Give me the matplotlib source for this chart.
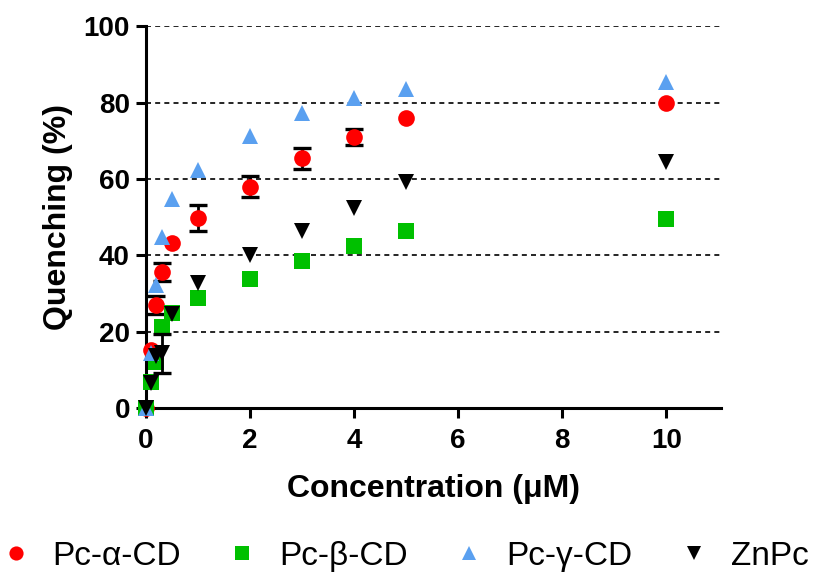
import matplotlib
matplotlib.use("Agg")
import matplotlib.pyplot as plt
import numpy as np

plt.rcParams['font.family'] = ['Liberation Sans', 'DejaVu Sans']

# concentration (uM)
conc = [0, 0.1, 0.2, 0.3, 0.5, 1, 2, 3, 4, 5, 10]

# quenching (%) per compound
pc_alpha = [0, 15.2, 27.0, 35.7, 43.2, 49.8, 58.0, 65.4, 71.0, 76.1, 80.0]
pc_beta = [0, 6.8, 12.0, 21.3, 25.0, 28.7, 33.8, 38.4, 42.5, 46.5, 49.5]
pc_gamma = [0, 14.3, 32.2, 44.9, 54.8, 62.4, 71.3, 77.4, 81.2, 83.7, 85.5]
znpc = [0, 6.5, 13.5, 14.3, 24.6, 32.8, 40.1, 46.5, 52.3, 59.2, 64.4]

# error bars (nan = none shown)
nan = np.nan
pc_alpha_err = [nan, nan, 2.3, 2.3, nan, 3.3, 2.7, 2.7, 2.1, nan, nan]
pc_beta_err = [nan] * 11
pc_gamma_err = [nan] * 11
znpc_err = [nan, nan, nan, 5.0, nan, nan, nan, nan, nan, nan, nan]

names = ["Pc-\u03b1-CD", "Pc-\u03b2-CD", "Pc-\u03b3-CD", "ZnPc"]
series = [pc_alpha, pc_beta, pc_gamma, znpc]
errs = [pc_alpha_err, pc_beta_err, pc_gamma_err, znpc_err]
markers = ['o', 's', '^', 'v']
colors = ['#ff0000', '#00c000', '#5aa0f0', '#000000']

fig = plt.figure(figsize=(8.27, 5.76), dpi=100)
ax = fig.add_axes([0.1765, 0.2917, 0.6953, 0.6623])

for i, (y, e) in enumerate(zip(series, errs)):
    ax.errorbar(conc, y, yerr=e, fmt='none', ecolor='black', elinewidth=2.0,
                capsize=6.5, capthick=2.4, zorder=3 + i, clip_on=False)
    ax.plot(conc, y, linestyle='none', marker=markers[i], markersize=12,
            color=colors[i], markeredgewidth=0, label=names[i],
            zorder=4 + i, clip_on=False)

ax.set_xlim(0, 11.05)
ax.set_ylim(0, 100)
ax.set_xticks([0, 2, 4, 6, 8, 10])
ax.set_yticks([0, 20, 40, 60, 80, 100])

ax.yaxis.grid(True, color='black', linestyle=(0, (3, 2.5)), linewidth=1.2)
ax.set_axisbelow(True)

for side in ('top', 'right'):
    ax.spines[side].set_visible(False)
for side in ('left', 'bottom'):
    ax.spines[side].set_linewidth(2.2)

ax.tick_params(axis='both', width=2.2, length=7.5, labelsize=20)
ax.tick_params(axis='x', pad=7)
ax.tick_params(axis='y', pad=4)
for lab in ax.get_xticklabels() + ax.get_yticklabels():
    lab.set_fontweight('bold')

ax.set_xlabel('Concentration (\u03bcM)', fontsize=23, fontweight='bold', labelpad=14)
ax.set_ylabel('Quenching (%)', fontsize=23, fontweight='bold', labelpad=8)

fig.legend(loc='lower center', ncol=4, frameon=False, fontsize=24,
           bbox_to_anchor=(0.49, -0.045), handlelength=0.8, handletextpad=0.7,
           columnspacing=1.45, markerscale=0.85)

fig.savefig('out.png', dpi=100)
